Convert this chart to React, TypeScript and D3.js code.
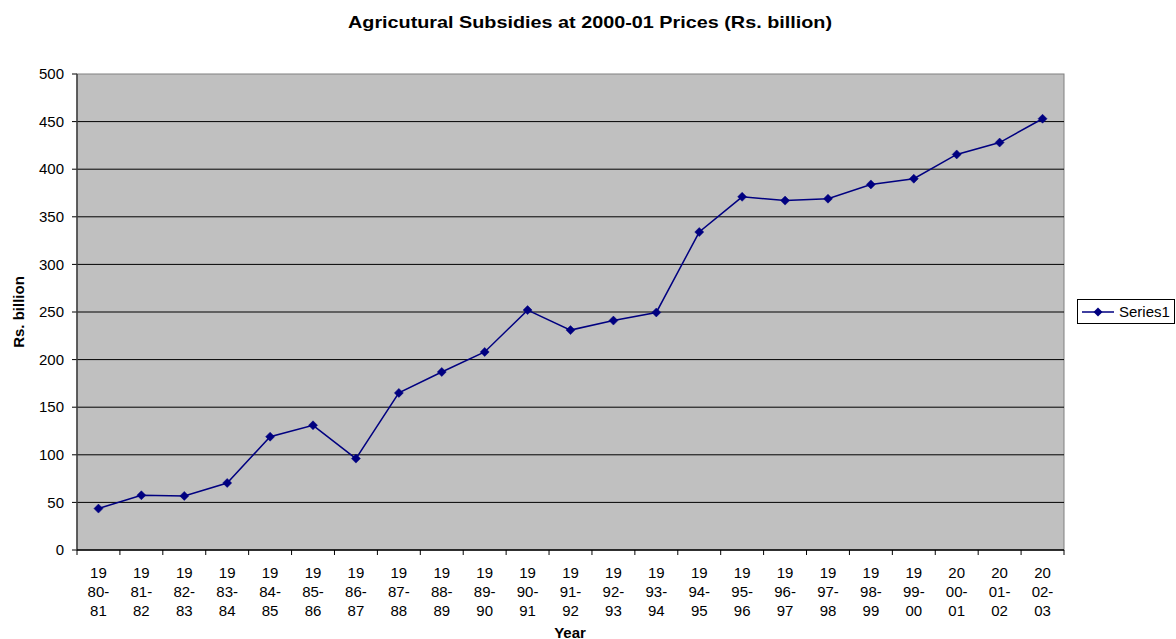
import React from "react";
import * as d3 from "d3";

const years: string[][] = [
  ["19", "80-", "81"], ["19", "81-", "82"], ["19", "82-", "83"], ["19", "83-", "84"],
  ["19", "84-", "85"], ["19", "85-", "86"], ["19", "86-", "87"], ["19", "87-", "88"],
  ["19", "88-", "89"], ["19", "89-", "90"], ["19", "90-", "91"], ["19", "91-", "92"],
  ["19", "92-", "93"], ["19", "93-", "94"], ["19", "94-", "95"], ["19", "95-", "96"],
  ["19", "96-", "97"], ["19", "97-", "98"], ["19", "98-", "99"], ["19", "99-", "00"],
  ["20", "00-", "01"], ["20", "01-", "02"], ["20", "02-", "03"],
];
const series1: number[] = [
  43.5, 57.5, 56.8, 70.4, 119, 131, 96, 165, 187, 208, 252, 231, 241, 249.5,
  334, 371, 367, 369, 384, 390, 415.5, 428, 453,
];
const yTicks: number[] = [0, 50, 100, 150, 200, 250, 300, 350, 400, 450, 500];

const W = 1176;
const H = 639;
const L = 77, R = 1064, T = 74, B = 550;
const FONT = "'Liberation Sans', Arial, sans-serif";
const FS = 15;

export default function App() {
  const keys = years.map((y) => y.join(""));
  const x = d3.scaleBand<string>().domain(keys).range([L, R]).padding(0);
  const y = d3.scaleLinear().domain([0, 500]).range([B, T]);
  const line = d3
    .line<number>()
    .x((_, i) => (x(keys[i]) as number) + x.bandwidth() / 2)
    .y((d) => y(d));
  const diamond = (cx: number, cy: number, r: number) =>
    `M${cx},${cy - r}L${cx + r},${cy}L${cx},${cy + r}L${cx - r},${cy}Z`;
  const boundaries = d3.range(keys.length + 1).map((i) => L + i * x.bandwidth());

  return (
    <svg
      width={W}
      height={H}
      style={{ position: "absolute", left: 0, top: 0, display: "block" }}
      fontFamily={FONT}
    >
      <rect x={0} y={0} width={W} height={H} fill="#fff" />
      <text
        x={348}
        y={28}
        fontWeight="bold"
        fontSize={17}
        fill="#000"
        textLength={484}
        lengthAdjust="spacingAndGlyphs"
      >
        Agricutural Subsidies at 2000-01 Prices (Rs. billion)
      </text>
      <rect x={L} y={T} width={R - L} height={B - T} fill="#C0C0C0" stroke="#808080" strokeWidth={1} />
      {yTicks.map((t) => (
        <g key={t}>
          {t > 0 && t < 500 && (
            <line x1={L} x2={R} y1={y(t)} y2={y(t)} stroke="#000" strokeWidth={1} />
          )}
          <line x1={L - 5} x2={L} y1={y(t)} y2={y(t)} stroke="#000" strokeWidth={1} />
          <text x={64} y={y(t)} dy="0.35em" textAnchor="end" fontSize={FS} fill="#000">
            {t}
          </text>
        </g>
      ))}
      <line x1={L} x2={L} y1={T} y2={B} stroke="#404040" strokeWidth={1.5} />
      <line x1={L} x2={R} y1={B} y2={B} stroke="#000" strokeWidth={1.5} />
      {boundaries.map((bx, i) => (
        <line key={i} x1={bx} x2={bx} y1={B} y2={B + 5} stroke="#000" strokeWidth={1} />
      ))}
      {years.map((lines, i) => (
        <text
          key={keys[i]}
          x={(x(keys[i]) as number) + x.bandwidth() / 2}
          textAnchor="middle"
          fontSize={FS}
          fill="#000"
        >
          {lines.map((s, j) => (
            <tspan key={j} x={(x(keys[i]) as number) + x.bandwidth() / 2} y={578 + j * 19}>
              {s}
            </tspan>
          ))}
        </text>
      ))}
      <text x={570} y={638} textAnchor="middle" fontWeight="bold" fontSize={15} fill="#000">
        Year
      </text>
      <text
        transform="translate(24,312) rotate(-90)"
        textAnchor="middle"
        fontWeight="bold"
        fontSize={15}
        fill="#000"
      >
        Rs. billion
      </text>
      <path d={line(series1) || ""} fill="none" stroke="#000080" strokeWidth={1.5} />
      {series1.map((v, i) => (
        <path
          key={i}
          d={diamond((x(keys[i]) as number) + x.bandwidth() / 2, y(v), 4.5)}
          fill="#000080"
          stroke="#000080"
          strokeWidth={0.5}
        />
      ))}
      <rect x={1077.5} y={299.5} width={97} height={24} fill="#fff" stroke="#000" strokeWidth={1} />
      <line x1={1082} x2={1114} y1={312} y2={312} stroke="#000080" strokeWidth={1.5} />
      <path d={diamond(1098, 312, 4.5)} fill="#000080" />
      <text x={1119} y={312} dy="0.35em" fontSize={FS} fill="#000">
        Series1
      </text>
    </svg>
  );
}
